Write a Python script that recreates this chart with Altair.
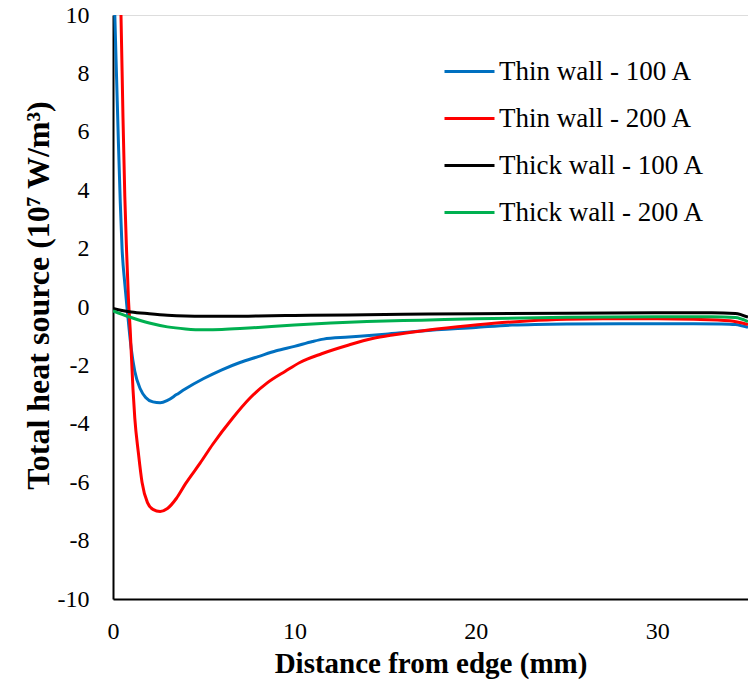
import altair as alt
import pandas as pd

series_names = ["Thin wall - 100 A", "Thin wall - 200 A", "Thick wall - 100 A", "Thick wall - 200 A"]
series_colors = ["#0070C0", "#FF0000", "#000000", "#00B050"]

thin100_x = [0, 0.1, 0.2, 0.3, 0.4, 0.5, 0.65, 0.8, 1.0, 1.2, 1.5, 1.8, 2.2, 2.6, 3.0, 3.5, 4.0, 5, 6, 7, 8, 9, 10, 11, 11.6, 13, 15, 17, 20, 22, 25, 28, 30, 32, 33.5, 34.3, 35]
thin100_y = [13, 10, 7.8, 5.6, 3.6, 2.0, 0.8, -0.2, -1.4, -2.2, -2.8, -3.1, -3.25, -3.28, -3.2, -3.0, -2.8, -2.45, -2.15, -1.9, -1.7, -1.5, -1.35, -1.18, -1.1, -1.03, -0.93, -0.82, -0.7, -0.62, -0.58, -0.57, -0.57, -0.57, -0.58, -0.6, -0.7]

thin200_x = [0.35, 0.44, 0.55, 0.65, 0.75, 0.85, 0.95, 1.1, 1.2, 1.4, 1.6, 1.9, 2.2, 2.6, 3.0, 3.5, 4.0, 4.8, 5.5, 6.6, 7.5, 8.5, 9.5, 10.3, 11.5, 13, 14.3, 15.5, 17, 19, 21, 23, 25, 27, 30, 32, 34, 35]
thin200_y = [12, 10, 6.5, 3.8, 1.9, 0.3, -0.8, -2.8, -3.8, -5.0, -6.0, -6.7, -6.93, -7.0, -6.9, -6.55, -6.05, -5.35, -4.7, -3.8, -3.15, -2.6, -2.2, -1.9, -1.6, -1.3, -1.08, -0.95, -0.82, -0.68, -0.56, -0.47, -0.42, -0.4, -0.4, -0.42, -0.47, -0.6]

thick100_x = [0, 0.5, 1, 2, 3, 4, 5, 6, 8, 10, 13, 16, 20, 25, 30, 33, 34.3, 35]
thick100_y = [-0.05, -0.12, -0.17, -0.23, -0.28, -0.31, -0.32, -0.32, -0.31, -0.29, -0.27, -0.25, -0.23, -0.21, -0.2, -0.2, -0.22, -0.35]

thick200_x = [0, 0.5, 1, 2, 3, 4, 5, 6, 7, 8, 10, 12, 14, 17, 20, 25, 30, 33, 34.3, 35]
thick200_y = [-0.13, -0.25, -0.36, -0.55, -0.68, -0.75, -0.78, -0.77, -0.74, -0.7, -0.62, -0.55, -0.5, -0.45, -0.4, -0.35, -0.33, -0.33, -0.36, -0.5]

x_ticks = [0, 10, 20, 30]
y_ticks = [-10, -8, -6, -4, -2, 0, 2, 4, 6, 8, 10]

rows = []
for name, xs, ys in zip(series_names,
                        [thin100_x, thin200_x, thick100_x, thick200_x],
                        [thin100_y, thin200_y, thick100_y, thick200_y]):
    for i, (xv, yv) in enumerate(zip(xs, ys)):
        rows.append({"series": name, "x": xv, "y": yv, "order": i})
df = pd.DataFrame(rows)

FONT = "Liberation Serif"

chart = alt.Chart(df).mark_line(clip=True, strokeWidth=3, interpolate="monotone").encode(
    x=alt.X("x:Q",
            scale=alt.Scale(domain=[0, 35], nice=False, zero=False),
            axis=alt.Axis(title="Distance from edge (mm)", values=x_ticks, grid=False, ticks=False,
                          domainColor="black", domainWidth=2,
                          labelExpr="'' + datum.value",
                          labelFont=FONT, labelFontSize=24, labelColor="black", labelPadding=20,
                          labelFlush=False,
                          titleFont=FONT, titleFontSize=29, titleFontWeight="bold", titleColor="black",
                          titlePadding=6)),
    y=alt.Y("y:Q",
            scale=alt.Scale(domain=[-10, 10], nice=False),
            axis=alt.Axis(title="Total heat source (10⁷ W/m³)", values=y_ticks, grid=False, ticks=False,
                          domainColor="black", domainWidth=2,
                          labelExpr="'' + datum.value",
                          labelFont=FONT, labelFontSize=24, labelColor="black", labelPadding=24,
                          titleFont=FONT, titleFontSize=32, titleFontWeight="bold", titleColor="black",
                          titlePadding=2, titleY=280)),
    color=alt.Color("series:N",
                    scale=alt.Scale(domain=series_names, range=series_colors),
                    sort=series_names,
                    legend=alt.Legend(title=None, orient="none", legendX=330, legendY=30,
                                      symbolType="stroke", symbolSize=2500, symbolStrokeWidth=3,
                                      labelFont=FONT, labelFontSize=27, labelColor="black",
                                      labelOffset=3, rowPadding=7, padding=0, labelLimit=400)),
    order="order:Q",
    detail="series:N",
).properties(
    width=635, height=584,
    padding={"left": 113, "top": 15, "right": 0, "bottom": 89},
    autosize=alt.AutoSizeParams(type="none"),
).configure_view(stroke=None).configure(background="white")

chart.save("out.html", embed_options={"renderer": "svg", "actions": False})
